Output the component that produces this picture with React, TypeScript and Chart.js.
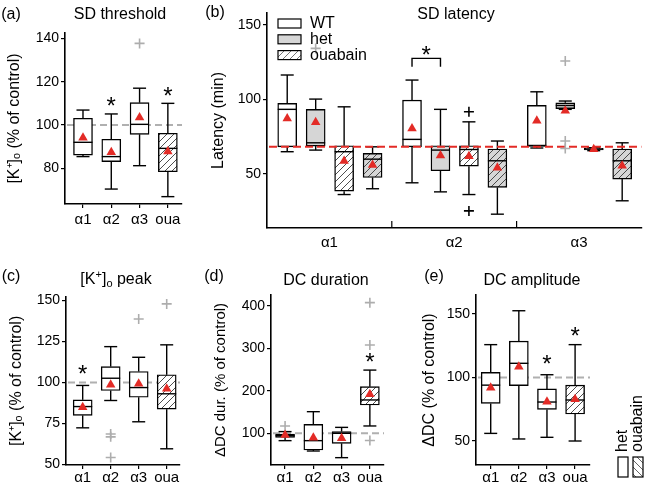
import React, { useEffect, useRef } from 'react';
import { Chart, registerables } from 'chart.js';
Chart.register(...registerables);

// ================= DATA =================
const catLabels = ['α1', 'α2', 'α3', 'oua'];
const catTreatment = ['control', 'control', 'control', 'ouabain'];

// (a) SD threshold – [K+]o (% of control)
const aMax = [106.9, 105.1, 117.0, 110.0];
const aQ3 = [103.1, 93.4, 110.3, 96.2];
const aMed = [92.0, 85.4, 100.3, 89.2];
const aQ1 = [86.1, 83.1, 95.7, 78.4];
const aMin = [85.4, 70.4, 81.2, 66.9];
const aMean = [94.1, 87.4, 103.5, 87.7];
const aOutliers: number[][] = [[], [], [137.7], []];
const aStars: (number | null)[] = [null, 111.5, null, 116];
const aYTicks = [80, 100, 120, 140];

// (b) SD latency (min); per group: [WT, het, WT+ouabain, het+ouabain]
const bGroups = ['α1', 'α2', 'α3'];
const bLegend = ['WT', 'het', 'ouabain'];
const bGenotype = ['WT', 'het', 'WT', 'het'];
const bTreatment = ['control', 'control', 'ouabain', 'ouabain'];
const bMax = [[116.4, 100.2, 95.0, 68.1], [113.0, 93.3, 84.9, 72.0], [105.1, 98.9, 67.5, 70.8]];
const bQ3 = [[97.3, 93.3, 68.8, 63.7], [99.5, 68.8, 68.8, 66.6], [96.0, 97.7, 67.0, 66.6]];
const bMed = [[93.3, 70.8, 64.8, 59.8], [73.1, 65.9, 66.3, 58.7], [69.0, 95.9, 66.5, 58.7]];
const bQ1 = [[68.1, 68.6, 38.3, 47.5], [68.1, 52.0, 55.1, 40.8], [68.3, 93.8, 66.0, 46.4]];
const bMin = [[64.8, 65.9, 36.0, 39.9], [43.9, 37.8, 36.0, 22.8], [67.3, 93.3, 65.5, 31.8]];
const bMean = [[87.2, 84.7, 58.5, 55.8], [80.5, 62.3, 61.8, 54.0], [85.6, 92.3, 66.5, 55.3]];
const bOutliers: number[][][] = [[[], [134.3], [], []], [[], [], [91.7, 25.0], []], [[], [125.8, 72.0, 67.0], [], []]];
const bYTicks = [50, 100, 150];
const bControlLine = 68.1;
const bSig = { group: 1, a: 0, b: 1, top: 127.6, leg: 122.0, star: 133.5 };

// (c) [K+]o peak
const cMax = [98.2, 121.9, 115.4, 123.0];
const cQ3 = [89.4, 109.7, 106.7, 104.7];
const cMed = [85.3, 102.6, 96.9, 93.1];
const cQ1 = [79.9, 95.1, 91.0, 83.7];
const cMin = [72.3, 89.0, 76.0, 59.5];
const cMean = [84.9, 98.6, 99.2, 96.1];
const cOutliers: number[][] = [[], [68.5, 66.8, 54.2], [138.8], [148.0]];
const cStars: (number | null)[] = [108.7, null, null, null];
const cYTicks = [50, 75, 100, 125, 150];

// (d) DC duration
const dMax = [104.0, 151.0, 114.0, 249.0];
const dQ3 = [98.4, 121.2, 104.0, 210.0];
const dMed = [94.5, 82.7, 100.0, 178.6];
const dQ1 = [90.6, 60.7, 76.4, 166.8];
const dMin = [82.7, 58.3, 42.6, 117.3];
const dMean = [96.0, 89.8, 88.2, 192.0];
const dOutliers: number[][] = [[117.3], [], [], [408.0, 308.0, 83.0]];
const dStars: (number | null)[] = [null, null, null, 281.0];
const dYTicks = [100, 200, 300, 400];

// (e) DC amplitude
const eMax = [125.9, 152.6, 102.2, 125.9];
const eQ3 = [104.0, 128.7, 91.0, 94.0];
const eMed = [94.0, 111.2, 80.7, 82.3];
const eQ1 = [79.6, 93.6, 74.9, 71.3];
const eMin = [56.0, 51.6, 52.9, 50.0];
const eMean = [92.0, 108.5, 81.0, 82.8];
const eStars: (number | null)[] = [null, null, 115.0, 137.4];
const eYTicks = [50, 100, 150];
const eSideLegend = ['het', 'ouabain'];

const controlLevel = 100;

// ================= STYLE =================
const FONT = "'Liberation Sans', Arial, Helvetica, sans-serif";
const RED = '#e32b26';
const OUT_GRAY = '#adadad';
const REF_GRAY = '#b0b0b0';
const HET_FILL = '#d6d6d6';
const BOX_W = 19;
const CAP_HALF = 6.5;

type Box = { x: number; min: number; q1: number; med: number; q3: number; max: number; mean: number; outliers: number[]; fill: any; outColor: string };
type Panel = {
  left: number; top: number; width: number; height: number;
  area: { l: number; r: number; t: number; b: number };
  xMin: number; xMax: number; yMin: number; yMax: number;
  xTicks: number[]; xLabels: string[]; yTicks: number[];
  yTitle: string; yTitleSize: number; yTitleCenter: number;
  xTickMarks: boolean; xLabelPad: number;
  boxes: Box[];
  stars: { x: number; v: number }[];
  ref?: { v: number; color: string; dash: number[]; onTop: boolean };
  overlay?: (chart: any) => void;
};

function hatch(bg: string, dir: number, color = '#3a3a3a') {
  const s = 7;
  const c = document.createElement('canvas');
  c.width = s; c.height = s;
  const g = c.getContext('2d')!;
  g.fillStyle = bg; g.fillRect(0, 0, s, s);
  g.strokeStyle = color; g.lineWidth = 0.9;
  g.beginPath();
  if (dir === 1) {
    g.moveTo(0, s); g.lineTo(s, 0);
    g.moveTo(-2, 2); g.lineTo(2, -2);
    g.moveTo(s - 2, s + 2); g.lineTo(s + 2, s - 2);
  } else {
    g.moveTo(0, 0); g.lineTo(s, s);
    g.moveTo(s - 2, -2); g.lineTo(s + 2, 2);
    g.moveTo(-2, s - 2); g.lineTo(2, s + 2);
  }
  g.stroke();
  return g.createPattern(c, 'repeat');
}

function line(ctx: CanvasRenderingContext2D, x1: number, y1: number, x2: number, y2: number) {
  ctx.beginPath(); ctx.moveTo(x1, y1); ctx.lineTo(x2, y2); ctx.stroke();
}

function drawStar(ctx: CanvasRenderingContext2D, x: number, y: number) {
  const size = 24;
  ctx.save();
  ctx.fillStyle = '#000';
  ctx.font = `${size}px ${FONT}`;
  ctx.textAlign = 'center';
  ctx.textBaseline = 'alphabetic';
  ctx.fillText('*', x, y + 0.58 * size);
  ctx.restore();
}

function buildConfig(p: Panel): any {
  const font = (size: number) => ({ family: FONT, size, weight: 'normal' as const });
  const drawRef = (chart: any) => {
    if (!p.ref) return;
    const { ctx, chartArea, scales } = chart;
    const y = scales.y.getPixelForValue(p.ref.v);
    ctx.save();
    ctx.strokeStyle = p.ref.color; ctx.lineWidth = 2; ctx.setLineDash(p.ref.dash);
    line(ctx, chartArea.left + 2, y, chartArea.right, y);
    ctx.restore();
  };
  const plugin = {
    id: 'boxParts',
    beforeDatasetsDraw(chart: any) {
      const { ctx, scales } = chart;
      const xs = scales.x, ys = scales.y;
      if (p.ref && !p.ref.onTop) drawRef(chart);
      ctx.save();
      ctx.strokeStyle = '#000'; ctx.lineWidth = 1.4; ctx.setLineDash([]);
      for (const b of p.boxes) {
        const px = xs.getPixelForValue(b.x);
        const yMax = ys.getPixelForValue(b.max), yMin = ys.getPixelForValue(b.min);
        line(ctx, px, ys.getPixelForValue(b.q3), px, yMax);
        line(ctx, px, ys.getPixelForValue(b.q1), px, yMin);
        line(ctx, px - CAP_HALF, yMax, px + CAP_HALF, yMax);
        line(ctx, px - CAP_HALF, yMin, px + CAP_HALF, yMin);
      }
      ctx.restore();
    },
    afterDatasetDraw(chart: any, args: any) {
      if (args.index !== 0) return;
      const { ctx, scales } = chart;
      ctx.save();
      ctx.strokeStyle = '#000'; ctx.lineWidth = 1.4;
      for (const b of p.boxes) {
        const px = scales.x.getPixelForValue(b.x);
        const ym = scales.y.getPixelForValue(b.med);
        line(ctx, px - BOX_W / 2, ym, px + BOX_W / 2, ym);
      }
      ctx.restore();
      if (p.ref && p.ref.onTop) drawRef(chart);
    },
    afterDatasetsDraw(chart: any) {
      const { ctx, scales } = chart;
      for (const s of p.stars) drawStar(ctx, scales.x.getPixelForValue(s.x), scales.y.getPixelForValue(s.v));
    },
    afterDraw(chart: any) {
      if (p.overlay) p.overlay(chart);
    },
  };
  const outPts = p.boxes.flatMap((b) => b.outliers.map((v) => ({ x: b.x, y: v })));
  const outCols = p.boxes.flatMap((b) => b.outliers.map(() => b.outColor));
  return {
    type: 'bar',
    data: {
      datasets: [
        {
          type: 'bar', data: p.boxes.map((b) => ({ x: b.x, y: [b.q1, b.q3] })),
          backgroundColor: p.boxes.map((b) => b.fill), borderColor: '#000', borderWidth: 1.4,
          borderSkipped: false, barThickness: BOX_W, order: 3,
        },
        {
          type: 'scatter', data: outPts, pointStyle: 'cross', pointRadius: 5, pointHoverRadius: 5,
          pointBorderColor: outCols, pointBackgroundColor: outCols, pointBorderWidth: 1.6, order: 2,
        },
        {
          type: 'scatter', data: p.boxes.map((b) => ({ x: b.x, y: b.mean })), pointStyle: 'triangle',
          pointRadius: 5.5, pointHoverRadius: 5.5, pointBackgroundColor: RED, pointBorderColor: RED, pointBorderWidth: 0, order: 1,
        },
      ],
    },
    options: {
      responsive: false, maintainAspectRatio: false, animation: false, events: [],
      layout: { padding: { left: 0, top: p.area.t, right: p.width - p.area.r, bottom: 0 } },
      plugins: { legend: { display: false }, tooltip: { enabled: false }, title: { display: false } },
      scales: {
        x: {
          type: 'linear', position: 'bottom', min: p.xMin, max: p.xMax, offset: false,
          afterBuildTicks: (s: any) => { s.ticks = p.xTicks.map((v) => ({ value: v })); },
          afterFit: (s: any) => { s.height = p.height - p.area.b; },
          ticks: {
            autoSkip: false, maxRotation: 0, minRotation: 0, padding: p.xLabelPad, color: '#000', font: font(15),
            callback: (v: number) => { const i = p.xTicks.indexOf(v); return i >= 0 ? p.xLabels[i] : ''; },
          },
          grid: { display: p.xTickMarks, offset: false, drawOnChartArea: false, drawTicks: p.xTickMarks, tickLength: 4, color: '#000', lineWidth: 1.2 },
          border: { display: true, color: '#000', width: 1.6 },
        },
        y: {
          type: 'linear', position: 'left', min: p.yMin, max: p.yMax,
          afterBuildTicks: (s: any) => { s.ticks = p.yTicks.map((v) => ({ value: v })); },
          afterFit: (s: any) => { s.width = p.area.l; },
          ticks: { padding: 2, color: '#000', font: font(14), callback: (v: number) => String(v) },
          grid: { display: true, offset: false, drawOnChartArea: false, drawTicks: true, tickLength: 4, color: '#000', lineWidth: 1.2 },
          border: { display: true, color: '#000', width: 1.6 },
          title: {
            display: true, text: p.yTitle, color: '#000', font: font(p.yTitleSize),
            padding: { top: p.yTitleCenter - (p.yTitleSize * 1.2) / 2, bottom: 0 },
          },
        },
      },
    },
    plugins: [plugin],
  };
}

function simpleBoxes(mx: number[], q3: number[], md: number[], q1: number[], mn: number[], mean: number[], outs: number[][], plain: any, hatched: any): Box[] {
  return catLabels.map((_, i) => ({
    x: i + 1, max: mx[i], q3: q3[i], med: md[i], q1: q1[i], min: mn[i], mean: mean[i],
    outliers: outs[i], fill: catTreatment[i] === 'ouabain' ? hatched : plain, outColor: OUT_GRAY,
  }));
}

function starList(st: (number | null)[]) {
  return st.map((v, i) => (v === null ? null : { x: i + 1, v })).filter((s) => s !== null) as { x: number; v: number }[];
}

function buildPanels(): Panel[] {
  const hatchW = hatch('#ffffff', 1);
  const hatchG = hatch(HET_FILL, 1);
  const hatchLegend = hatch('#ffffff', 1, '#666');
  const hatchSide = hatch('#ffffff', -1, '#555');
  const grayRef = { v: controlLevel, color: REF_GRAY, dash: [7, 4], onTop: false };
  const catTicks = catLabels.map((_, i) => i + 1);

  const fillFor = (s: number) => {
    const het = bGenotype[s] === 'het';
    const oua = bTreatment[s] === 'ouabain';
    if (oua) return het ? hatchG : hatchW;
    return het ? HET_FILL : '#ffffff';
  };
  const offsets = [-0.338, -0.11, 0.118, 0.346];
  const darkOutlier = (g: number, s: number) => g === 1 && s === 2;
  const bBoxes: Box[] = [];
  bGroups.forEach((_, g) => {
    offsets.forEach((o, s) => {
      bBoxes.push({
        x: g + 1 + o, max: bMax[g][s], q3: bQ3[g][s], med: bMed[g][s], q1: bQ1[g][s], min: bMin[g][s],
        mean: bMean[g][s], outliers: bOutliers[g][s], fill: fillFor(s), outColor: darkOutlier(g, s) ? '#000' : OUT_GRAY,
      });
    });
  });

  const bOverlay = (chart: any) => {
    const { ctx, scales, chartArea } = chart;
    ctx.save();
    // group boundary ticks
    ctx.strokeStyle = '#000'; ctx.lineWidth = 1.2;
    [1.5, 2.5].forEach((v) => {
      const px = scales.x.getPixelForValue(v);
      line(ctx, px, chartArea.bottom, px, chartArea.bottom - 7);
    });
    // significance bracket
    const xa = scales.x.getPixelForValue(bSig.group + 1 + offsets[bSig.a]);
    const xb = scales.x.getPixelForValue(bSig.group + 1 + offsets[bSig.b]);
    const yt = scales.y.getPixelForValue(bSig.top), yl = scales.y.getPixelForValue(bSig.leg);
    ctx.lineWidth = 1.4;
    ctx.beginPath(); ctx.moveTo(xa, yl); ctx.lineTo(xa, yt); ctx.lineTo(xb, yt); ctx.lineTo(xb, yl); ctx.stroke();
    ctx.restore();
    drawStar(ctx, (xa + xb) / 2, scales.y.getPixelForValue(bSig.star));
    // legend
    ctx.save();
    const fills = ['#ffffff', HET_FILL, hatchLegend];
    bLegend.forEach((lab, i) => {
      const y0 = 19 + i * 15.8;
      ctx.fillStyle = fills[i] as any;
      ctx.fillRect(83, y0, 23, 9);
      ctx.strokeStyle = '#000'; ctx.lineWidth = 1.2;
      ctx.strokeRect(83, y0, 23, 9);
      ctx.fillStyle = '#000';
      ctx.font = `16px ${FONT}`;
      ctx.textAlign = 'left'; ctx.textBaseline = 'middle';
      ctx.fillText(lab, 115, y0 + 5);
    });
    ctx.restore();
  };

  const eOverlay = (chart: any) => {
    const { ctx } = chart;
    ctx.save();
    const fills = ['#ffffff', hatchSide];
    eSideLegend.forEach((lab, i) => {
      const x0 = 218 + i * 15;
      ctx.fillStyle = fills[i] as any;
      ctx.fillRect(x0, 209, 10, 20);
      ctx.strokeStyle = '#000'; ctx.lineWidth = 1.2;
      ctx.strokeRect(x0, 209, 10, 20);
      ctx.save();
      ctx.translate(x0 + 5, 204);
      ctx.rotate(-Math.PI / 2);
      ctx.fillStyle = '#000';
      ctx.font = `16px ${FONT}`;
      ctx.textAlign = 'left'; ctx.textBaseline = 'middle';
      ctx.fillText(lab, 0, 0);
      ctx.restore();
    });
    ctx.restore();
  };

  return [
    {
      left: 0, top: 0, width: 195, height: 240,
      area: { l: 65, r: 182, t: 33, b: 204 },
      xMin: 0.364, xMax: 4.5, yMin: 63.5, yMax: 142.5,
      xTicks: catTicks, xLabels: catLabels, yTicks: aYTicks,
      yTitle: '[K⁺]ₒ (% of control)', yTitleSize: 16, yTitleCenter: 15,
      xTickMarks: true, xLabelPad: 3,
      boxes: simpleBoxes(aMax, aQ3, aMed, aQ1, aMin, aMean, aOutliers, '#ffffff', hatchW),
      stars: starList(aStars), ref: grayRef,
    },
    {
      left: 195, top: 0, width: 453, height: 262,
      area: { l: 72, r: 452, t: 13, b: 228 },
      xMin: 0.5, xMax: 3.5, yMin: 13.5, yMax: 158.1,
      xTicks: [1, 2, 3], xLabels: bGroups, yTicks: bYTicks,
      yTitle: 'Latency (min)', yTitleSize: 16, yTitleCenter: 24,
      xTickMarks: false, xLabelPad: 6,
      boxes: bBoxes, stars: [],
      ref: { v: bControlLine, color: RED, dash: [8, 4], onTop: true },
      overlay: bOverlay,
    },
    {
      left: 0, top: 248, width: 200, height: 240,
      area: { l: 66, r: 180, t: 48.7, b: 217 },
      xMin: 0.404, xMax: 4.475, yMin: 49.6, yMax: 152.4,
      xTicks: catTicks, xLabels: catLabels, yTicks: cYTicks,
      yTitle: '[K⁺]ₒ (% of control)', yTitleSize: 16, yTitleCenter: 17,
      xTickMarks: true, xLabelPad: 0,
      boxes: simpleBoxes(cMax, cQ3, cMed, cQ1, cMin, cMean, cOutliers, '#ffffff', hatchW),
      stars: starList(cStars), ref: grayRef,
    },
    {
      left: 200, top: 248, width: 200, height: 240,
      area: { l: 71, r: 184, t: 47, b: 217 },
      xMin: 0.502, xMax: 4.5, yMin: 25.3, yMax: 426,
      xTicks: catTicks, xLabels: catLabels, yTicks: dYTicks,
      yTitle: 'ΔDC dur. (% of control)', yTitleSize: 15, yTitleCenter: 21,
      xTickMarks: true, xLabelPad: 0,
      boxes: simpleBoxes(dMax, dQ3, dMed, dQ1, dMin, dMean, dOutliers, '#ffffff', hatchW),
      stars: starList(dStars), ref: grayRef,
    },
    {
      left: 400, top: 248, width: 248, height: 240,
      area: { l: 76, r: 190, t: 47, b: 217 },
      xMin: 0.477, xMax: 4.53, yMin: 31.1, yMax: 165,
      xTicks: catTicks, xLabels: catLabels, yTicks: eYTicks,
      yTitle: 'ΔDC (% of control)', yTitleSize: 16, yTitleCenter: 29.5,
      xTickMarks: true, xLabelPad: 0,
      boxes: simpleBoxes(eMax, eQ3, eMed, eQ1, eMin, eMean, [[], [], [], []], '#ffffff', hatchW),
      stars: starList(eStars), ref: grayRef,
      overlay: eOverlay,
    },
  ];
}

const canvasLayout = [
  { left: 0, top: 0, width: 195, height: 240 },
  { left: 195, top: 0, width: 453, height: 262 },
  { left: 0, top: 248, width: 200, height: 240 },
  { left: 200, top: 248, width: 200, height: 240 },
  { left: 400, top: 248, width: 248, height: 240 },
];

const textStyle: React.CSSProperties = {
  position: 'absolute', fontFamily: FONT, fontSize: 16, lineHeight: 1, color: '#000',
  whiteSpace: 'nowrap', transform: 'translate(-50%, -50%)',
};

const headings: { x: number; y: number; node: React.ReactNode }[] = [
  { x: 11, y: 14, node: '(a)' },
  { x: 120, y: 14, node: 'SD threshold' },
  { x: 215, y: 12, node: '(b)' },
  { x: 456, y: 14, node: 'SD latency' },
  { x: 11, y: 276, node: '(c)' },
  { x: 116, y: 279, node: (<span>[K<sup style={{ fontSize: 11, verticalAlign: 6 }}>+</sup>]<sub style={{ fontSize: 11, verticalAlign: -3 }}>o</sub> peak</span>) },
  { x: 214, y: 276, node: '(d)' },
  { x: 326, y: 280, node: 'DC duration' },
  { x: 434, y: 276, node: '(e)' },
  { x: 532, y: 280, node: 'DC amplitude' },
];

export default function App() {
  const r0 = useRef<HTMLCanvasElement>(null);
  const r1 = useRef<HTMLCanvasElement>(null);
  const r2 = useRef<HTMLCanvasElement>(null);
  const r3 = useRef<HTMLCanvasElement>(null);
  const r4 = useRef<HTMLCanvasElement>(null);
  const refs = [r0, r1, r2, r3, r4];

  useEffect(() => {
    const panels = buildPanels();
    const charts = panels.map((p, i) => new Chart(refs[i].current as HTMLCanvasElement, buildConfig(p)));
    return () => charts.forEach((c) => c.destroy());
  }, []);

  return (
    <div style={{ position: 'absolute', left: 0, top: 0, width: 648, height: 488, background: '#fff', overflow: 'hidden' }}>
      {canvasLayout.map((c, i) => (
        <canvas key={i} ref={refs[i]} width={c.width} height={c.height}
          style={{ position: 'absolute', left: c.left, top: c.top, width: c.width, height: c.height }} />
      ))}
      {headings.map((h, i) => (
        <div key={i} style={{ ...textStyle, left: h.x, top: h.y }}>{h.node}</div>
      ))}
    </div>
  );
}
